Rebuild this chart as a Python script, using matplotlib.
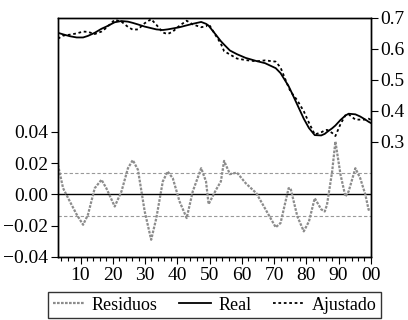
import matplotlib.pyplot as plt
from matplotlib.ticker import MultipleLocator, FixedLocator, FuncFormatter

plt.rcParams['font.family'] = ['Liberation Serif', 'DejaVu Serif']

# observaciones (eje x)
obs = [3, 4.6, 6.7, 8.8, 10.8, 12.3, 14.4, 16.5, 18, 20.6, 22.7, 24.7, 26.2, 27.8,
       29.9, 31.9, 33.5, 35.5, 37, 38.6, 40.7, 42.9, 44.8, 47.4, 48.9, 49.7, 52,
       53.5, 54.5, 56.3, 58.5, 61.2, 64.5, 67.2, 70.5, 72, 74.5, 75.1, 77.2, 79.2,
       80.8, 82.6, 84.6, 85.7, 86.4, 88, 89, 90.6, 92.1, 93.1, 95.2, 96.7, 98.3,
       99.3, 100]

residuos = [0.019, 0.004, -0.0045, -0.0128, -0.0194, -0.013, 0.004, 0.0094, 0.004,
            -0.0077, 0.002, 0.0168, 0.022, 0.0158, -0.0109, -0.029, -0.0151, 0.0083,
            0.0147, 0.0104, -0.0045, -0.0151, 0.002, 0.0168, 0.0083, -0.0062, 0.003,
            0.0083, 0.0215, 0.013, 0.014, 0.0072, 0.0008, -0.009, -0.021, -0.0183,
            0.004, 0.004, -0.014, -0.0236, -0.0173, -0.0024, -0.0095, -0.0109,
            -0.0066, 0.0147, 0.0339, 0.0126, -0.0013, 0.0019, 0.0168, 0.0104,
            -0.0002, -0.0098, -0.010]

real = [0.652, 0.647, 0.641, 0.637, 0.637, 0.642, 0.652, 0.665, 0.672, 0.686, 0.690,
        0.688, 0.684, 0.679, 0.672, 0.667, 0.663, 0.661, 0.663, 0.666, 0.670, 0.676,
        0.681, 0.687, 0.681, 0.675, 0.645, 0.625, 0.614, 0.595, 0.583, 0.571, 0.561,
        0.554, 0.538, 0.522, 0.480, 0.467, 0.420, 0.375, 0.345, 0.322, 0.321, 0.326,
        0.332, 0.344, 0.353, 0.371, 0.385, 0.391, 0.389, 0.382, 0.372, 0.365, 0.361]

ajustado = [0.633, 0.643, 0.646, 0.650, 0.656, 0.655, 0.648, 0.656, 0.668, 0.694,
            0.688, 0.671, 0.662, 0.663, 0.683, 0.696, 0.678, 0.653, 0.648, 0.656,
            0.675, 0.691, 0.679, 0.670, 0.673, 0.681, 0.642, 0.617, 0.593, 0.582,
            0.569, 0.564, 0.560, 0.563, 0.559, 0.540, 0.476, 0.463, 0.434, 0.399,
            0.362, 0.324, 0.331, 0.337, 0.339, 0.329, 0.319, 0.358, 0.386, 0.389,
            0.372, 0.372, 0.372, 0.375, 0.371]

desv = 0.0135

fig = plt.figure(figsize=(4.08, 3.2), dpi=100)
ax = fig.add_axes([0.142, 0.197, 0.767, 0.747])
ax2 = ax.twinx()

# residuos (eje izquierdo)
ax.axhline(0, color='black', lw=1.0)
ax.axhline(desv, color='0.6', lw=0.8, ls=(0, (3, 2)))
ax.axhline(-desv, color='0.6', lw=0.8, ls=(0, (3, 2)))
l1, = ax.plot(obs, residuos, color='0.55', lw=1.6, ls=(0, (1.2, 0.6)), label='Residuos')
ax.set_ylim(-0.04, 0.113)
ax.set_xlim(3, 100)
ax.yaxis.set_major_locator(FixedLocator([-0.04, -0.02, 0.0, 0.02, 0.04]))
ax.yaxis.set_major_formatter(FuncFormatter(lambda v, p: f'{v:.2f}'.replace('-', '\u2212')))
ax.xaxis.set_major_locator(MultipleLocator(10))
ax.xaxis.set_minor_locator(MultipleLocator(2))
ax.xaxis.set_major_formatter(FuncFormatter(lambda v, p: f'{int(round(v)) % 100:02d}'))

# real y ajustado (eje derecho)
l2, = ax2.plot(obs, real, color='black', lw=1.3, label='Real')
l3, = ax2.plot(obs, ajustado, color='black', lw=1.3, ls=(0, (1.5, 1.5)), label='Ajustado')
ax2.set_ylim(-0.071, 0.70)
ax2.yaxis.set_major_locator(FixedLocator([0.3, 0.4, 0.5, 0.6, 0.7]))
ax2.yaxis.set_major_formatter(FuncFormatter(lambda v, p: f'{v:.1f}'))

for a in (ax, ax2):
    a.tick_params(which='major', direction='out', length=5, width=0.8, labelsize=14, pad=2)
    a.tick_params(which='minor', direction='out', length=3, width=0.8)
    for s in a.spines.values():
        s.set_linewidth(1.0)

fig.legend(handles=[l1, l2, l3], loc='upper center', bbox_to_anchor=(0.526, 0.087),
           ncol=3, fontsize=13, frameon=True, fancybox=False, edgecolor='black',
           handlelength=1.75, handletextpad=0.4, columnspacing=1.2, borderpad=0.25,
           borderaxespad=0)

fig.savefig('out.png', dpi=100)
